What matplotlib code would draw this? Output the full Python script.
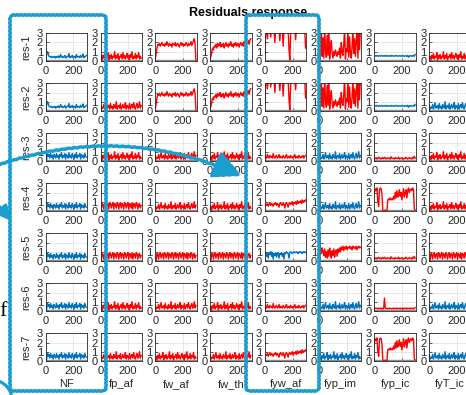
import numpy as np
import matplotlib
matplotlib.use("Agg")
import matplotlib.pyplot as plt
from matplotlib.patches import FancyBboxPatch, FancyArrowPatch, Arc

plt.rcParams['font.family'] = ['Liberation Sans', 'DejaVu Sans']

faults = ["NF", "fp_af", "fw_af", "fw_th", "fyw_af", "fyp_im", "fyp_ic", "fyT_ic"]
residuals = ["res-1", "res-2", "res-3", "res-4", "res-5", "res-6", "res-7"]

# 1 = residual responds to the fault (drawn red), 0 = no response (blue)
signature = [
    [0, 1, 1, 1, 1, 1, 0, 1],
    [0, 1, 1, 1, 1, 1, 0, 0],
    [0, 1, 1, 1, 1, 0, 1, 1],
    [0, 1, 1, 1, 1, 0, 1, 1],
    [0, 1, 1, 1, 0, 1, 1, 1],
    [0, 1, 1, 1, 1, 0, 1, 0],
    [0, 1, 1, 1, 1, 0, 1, 0],
]

threshold = 0.06
t = np.arange(0, 300, 6)  # sample index

# residual traces (50 samples each)
nf_start = [0.2, 0.6, 1.0, 0.8, 0.5, 0.45, 0.4, 0.5, 0.35, 0.45, 0.4, 0.5, 0.3, 0.45, 0.4, 0.55, 0.35,
            0.45, 0.7, 0.4, 0.5, 0.35, 0.45, 0.6, 0.3, 0.4, 0.5, 0.45, 0.8, 0.35, 0.5, 0.4, 0.6, 0.35,
            0.45, 0.5, 0.3, 0.7, 0.4, 0.5, 0.45, 0.35, 0.6, 0.4, 0.5, 0.75, 0.35, 0.45, 0.5, 0.6]
nf_noise = [0.1, 0.1, 0.9, 0.5, 0.7, 0.3, 0.8, 0.4, 0.6, 0.2, 0.7, 0.5, 0.3, 0.8, 0.4, 0.6, 0.2, 0.7,
            0.5, 0.9, 0.3, 0.6, 0.4, 0.8, 0.2, 0.7, 0.5, 0.3, 0.9, 0.4, 0.6, 0.3, 0.8, 0.5, 0.2, 0.7,
            0.4, 0.9, 0.3, 0.6, 0.5, 0.8, 0.2, 0.7, 0.4, 0.6, 0.3, 0.8, 0.5, 0.4]
noise_a = [0.2, 0.5, 0.1, 0.6, 0.3, 0.8, 0.2, 0.5, 0.4, 0.9, 0.1, 0.6, 0.3, 0.7, 0.2, 0.5, 0.4, 1.0,
           0.2, 0.6, 0.3, 0.8, 0.1, 0.5, 0.4, 0.7, 0.2, 0.9, 0.3, 0.6, 0.2, 0.5, 0.8, 0.3, 0.6, 0.1,
           0.7, 0.4, 1.0, 0.2, 0.5, 0.3, 0.8, 0.2, 0.6, 0.4, 0.9, 0.2, 0.5, 0.3]
noise_b = [0.6, 0.2, 0.4, 0.3, 0.7, 0.2, 0.5, 0.9, 0.3, 0.4, 0.6, 0.2, 0.8, 0.3, 0.5, 0.2, 0.7, 0.4,
           0.3, 1.0, 0.2, 0.5, 0.6, 0.3, 0.8, 0.2, 0.4, 0.7, 0.3, 0.5, 0.9, 0.2, 0.6, 0.4, 0.3, 0.8,
           0.2, 0.5, 0.7, 0.3, 0.9, 0.4, 0.2, 0.6, 0.8, 0.3, 0.5, 1.0, 0.3, 0.6]
block = [0.1, 0.1, 0.8, 0.7, 0.2, 0.8, 0.9, 0.3, 0.7, 0.8, 0.2, 0.9, 0.8, 0.3, 0.7, 0.9, 0.2, 0.8,
         0.7, 0.3, 0.9, 0.8, 0.2, 0.7, 0.9, 0.3, 0.8, 0.7, 0.2, 0.9, 0.8, 0.3, 0.7, 0.9, 0.2, 0.8,
         0.7, 0.3, 0.9, 0.2, 0.8, 0.7, 0.3, 0.9, 0.8, 0.2, 0.7, 0.8, 0.3, 0.6]
high_a = [0.2, 0.8, 1.4, 1.8, 1.7, 1.9, 1.6, 1.8, 2.0, 1.7, 1.8, 1.6, 1.9, 1.7, 2.1, 1.8, 1.6, 1.9,
          1.7, 1.8, 1.5, 1.9, 1.8, 1.7, 2.0, 1.6, 1.8, 1.9, 1.7, 1.5, 1.8, 2.0, 1.7, 1.9, 1.6, 1.8,
          1.7, 2.0, 1.8, 1.6, 1.9, 1.7, 1.8, 2.1, 1.7, 1.9, 2.2, 2.4, 1.8, 0.0]
high_b = [0.2, 0.5, 1.0, 1.4, 1.2, 1.6, 1.5, 1.8, 1.4, 1.9, 1.6, 1.7, 2.0, 1.5, 1.8, 1.6, 1.9, 1.4,
          1.7, 2.0, 1.6, 1.8, 1.5, 1.9, 1.7, 2.1, 1.6, 1.8, 1.5, 1.9, 1.7, 2.0, 1.6, 1.8, 1.9, 1.5,
          1.8, 2.0, 1.7, 1.9, 1.6, 2.1, 1.8, 1.7, 2.0, 1.9, 2.2, 1.8, 2.3, 2.4]
saturated = [0.8, 3.5, 3.5, 2.4, 3.5, 3.5, 3.5, 2.6, 3.5, 3.5, 3.5, 3.5, 2.0, 3.5, 3.5, 3.5, 3.5,
             3.5, 2.2, 3.5, 3.5, 3.5, 1.6, 3.5, 3.5, 3.5, 3.5, 3.5, 3.5, 1.3, 0.1, 2.8, 3.5, 3.5,
             3.5, 3.5, 3.5, 2.3, 3.5, 3.5, 3.5, 3.5, 3.5, 3.5, 3.5, 3.5, 3.5, 3.5, 3.5, 1.4]
wild = [3.5, 1.0, 3.5, 0.5, 2.5, 0.3, 3.5, 1.2, 0.4, 2.8, 0.6, 3.5, 0.2, 1.5, 2.2, 0.8, 0.3, 1.0,
        0.6, 1.2, 0.8, 0.5, 1.0, 0.7, 1.4, 0.3, 2.0, 0.9, 0.6, 1.8, 3.5, 0.2, 1.3, 1.0, 3.5, 0.4,
        2.6, 0.9, 0.3, 1.5, 3.5, 0.8, 2.4, 0.5, 2.2, 3.5, 0.3, 3.5, 1.2, 3.5]
flat = [0.6, 0.55, 0.5, 0.6, 0.55, 0.5, 0.58, 0.52, 0.55, 0.6, 0.5, 0.55, 0.53, 0.6, 0.5, 0.55,
        0.58, 0.5, 0.55, 0.52, 0.6, 0.5, 0.55, 0.57, 0.5, 0.55, 0.6, 0.52, 0.55, 0.5, 0.58, 0.55,
        0.5, 0.6, 0.52, 0.55, 0.5, 0.57, 0.55, 0.5, 0.6, 0.4, 0.55, 0.52, 0.58, 0.5, 0.55, 0.6,
        0.5, 0.7]
low = [0.3, 0.5, 0.3, 0.7, 0.4, 0.3, 0.6, 0.4, 0.5, 0.3, 0.8, 0.4, 0.3, 0.5, 0.6, 0.3, 0.4, 0.7,
       0.3, 0.5, 0.4, 0.3, 0.6, 0.4, 0.3, 0.5, 0.7, 0.3, 0.4, 0.5, 0.3, 0.6, 0.4, 0.3, 0.5, 0.4,
       0.7, 0.3, 0.4, 0.5, 0.3, 0.6, 0.4, 0.3, 0.5, 0.4, 0.6, 0.3, 0.5, 0.6]
low_flat = [0.3, 0.25, 0.35, 0.2, 0.3, 0.4, 0.25, 0.3, 0.2, 0.35, 0.3, 0.25, 0.4, 0.3, 0.2, 0.3,
            0.35, 0.25, 0.3, 0.2, 0.45, 0.3, 0.25, 0.3, 0.2, 0.35, 0.3, 0.25, 0.3, 0.4, 0.2, 0.3,
            0.25, 0.35, 0.3, 0.2, 0.3, 0.25, 0.4, 0.3, 0.2, 0.3, 0.35, 0.25, 0.3, 0.2, 0.4, 0.3,
            0.5, 0.3]
switching = [2.0, 2.4, 2.2, 2.5, 1.0, 0.5, 2.3, 2.5, 2.4, 1.8, 0.1, 0.0, 0.0, 0.1, 0.0, 0.0, 1.2,
             1.3, 1.2, 1.4, 1.2, 1.3, 1.2, 1.6, 1.3, 2.0, 1.4, 2.2, 1.5, 1.8, 2.3, 1.6, 2.0, 1.2,
             1.8, 2.4, 1.5, 2.0, 2.3, 1.4, 2.2, 2.5, 2.0, 2.3, 2.4, 2.2, 2.5, 2.3, 0.2, 0.1]
rising = [0.5, 0.7, 0.6, 0.8, 0.5, 0.7, 0.9, 0.6, 0.8, 0.7, 0.5, 0.8, 0.7, 0.9, 0.6, 0.8, 0.7, 0.4,
          0.8, 0.9, 0.7, 0.6, 0.9, 0.7, 0.3, 0.8, 0.9, 0.7, 0.4, 0.8, 0.9, 0.7, 0.8, 1.0, 0.6, 0.9,
          0.8, 1.0, 0.7, 1.1, 0.8, 1.0, 0.9, 1.1, 0.8, 1.2, 0.9, 1.1, 1.0, 1.2]
level_mid = [1.2, 1.5, 0.8, 1.4, 1.0, 0.6, 1.3, 0.4, 1.0, 0.3, 1.2, 0.5, 1.4, 0.8, 0.3, 1.1, 0.6,
             1.3, 0.4, 1.0, 1.2, 0.5, 1.3, 0.9, 1.4, 1.0, 1.5, 1.2, 1.6, 1.1, 1.5, 1.3, 1.6, 1.2,
             1.5, 1.4, 1.6, 1.3, 1.5, 1.2, 1.6, 1.4, 1.5, 1.3, 1.6, 1.2, 1.5, 1.6, 1.4, 1.5]
steady = [0.6, 0.9, 0.5, 0.8, 0.3, 0.9, 0.7, 1.0, 0.5, 0.9, 0.2, 0.8, 0.6, 0.9, 0.4, 0.8, 0.9, 0.3,
          0.8, 0.7, 0.9, 0.5, 0.8, 0.2, 0.9, 0.8, 1.0, 0.9, 0.8, 0.3, 0.9, 1.0, 0.9, 0.8, 0.9, 1.0,
          0.9, 0.9, 1.0, 0.9, 0.8, 1.0, 0.9, 1.0, 0.9, 0.8, 1.0, 0.9, 1.0, 0.9]
spike = [0.3, 0.3, 0.25, 0.3, 0.2, 0.3, 0.25, 0.3, 0.2, 0.3, 0.2, 0.25, 1.4, 0.3, 0.25, 0.3, 0.2,
         0.3, 0.25, 0.3, 0.2, 0.25, 0.3, 0.2, 0.3, 0.25, 0.3, 0.2, 0.3, 0.25, 0.3, 0.2, 0.3, 0.25,
         0.3, 0.2, 0.3, 0.25, 0.3, 0.2, 0.3, 0.25, 0.3, 0.2, 0.3, 0.25, 0.3, 0.2, 0.3, 0.35]

traces = [
    [nf_start, noise_a, high_a, high_b, saturated, wild, flat, noise_a],
    [nf_start, noise_b, high_a, high_b, saturated, wild, flat, noise_b],
    [nf_noise, noise_a, noise_b, noise_a, low, noise_b, low_flat, noise_a],
    [nf_noise, block, noise_b, noise_a, rising, noise_b, switching, noise_a],
    [nf_noise, block, block, block, steady, level_mid, low_flat, block],
    [nf_noise, noise_a, noise_b, noise_a, low, noise_b, spike, noise_b],
    [nf_noise, noise_b, noise_a, noise_b, rising, noise_a, switching, noise_b],
]

W, H = 466, 395
fig = plt.figure(figsize=(W / 100, H / 100), dpi=100)

txt = '#262626'
for i in range(7):
    for j in range(8):
        left = 45.7 + 54.8 * j
        top = 33.3 + 50 * i
        ax = fig.add_axes([left / W, 1 - (top + 27.6) / H, 41.5 / W, 27.6 / H])
        col = 'red' if signature[i][j] else '#0072BD'
        ax.axhline(threshold, color='0.55', lw=1.0)
        ax.plot(t, traces[i][j], color=col, lw=1.0)
        ax.set_xlim(0, 300)
        ax.set_ylim(0, 3)
        ax.set_xticks([0, 200])
        ax.set_yticks([0, 1, 2, 3])
        ax.grid(True, color='#e3e3e3', lw=0.6)
        ax.set_axisbelow(True)
        ax.tick_params(direction='in', length=2, width=0.5, labelsize=8, colors=txt, pad=2)
        ax.tick_params(axis='x', pad=3.5)
        for s in ax.spines.values():
            s.set_linewidth(0.6)
            s.set_color(txt)
        if j == 0:
            fig.text(26 / W, 1 - (top + 14) / H, residuals[i], rotation=90, ha='center', va='center',
                     fontsize=8, color=txt)
        if i == 6:
            fig.text((left + 20.7) / W, 1 - 384 / H, faults[j], ha='center', va='center',
                     fontsize=8, color=txt)

fig.text(248 / W, 1 - 13 / H, 'Residuals response', ha='center', va='center', fontsize=9,
         fontweight='bold', color='black')

# hand-drawn highlight on top
over = fig.add_axes([0, 0, 1, 1], zorder=10)
over.set_xlim(0, W)
over.set_ylim(H, 0)
over.axis('off')
over.patch.set_alpha(0)
cyan = '#1b9dcf'
for x0, x1 in [(10, 106), (246, 319)]:
    box = FancyBboxPatch((x0, 15), x1 - x0, 376, boxstyle='round,pad=0,rounding_size=4',
                         fill=False, ec=cyan, lw=2.4)
    box.set_sketch_params(0.35, 4, 1)
    over.add_patch(box)

arr = FancyArrowPatch((-5, 166), (244, 177), connectionstyle='arc3,rad=-0.2',
                      arrowstyle='-|>,head_length=1.2,head_width=0.6', mutation_scale=14,
                      color=cyan, lw=2.5)
arr.set_sketch_params(0.3, 6, 1)
over.add_patch(arr)
arr2 = FancyArrowPatch((-3, 204), (13, 223), arrowstyle='-|>,head_length=0.6,head_width=0.3',
                       mutation_scale=14, color=cyan, lw=2.5)
over.add_patch(arr2)
circ = Arc((-8, 400), 40, 40, color=cyan, lw=2.3)
over.add_patch(circ)
over.text(-1, 312, 'f', fontsize=16, family='Liberation Serif', va='center', ha='left')

fig.savefig('out.png', dpi=100)
